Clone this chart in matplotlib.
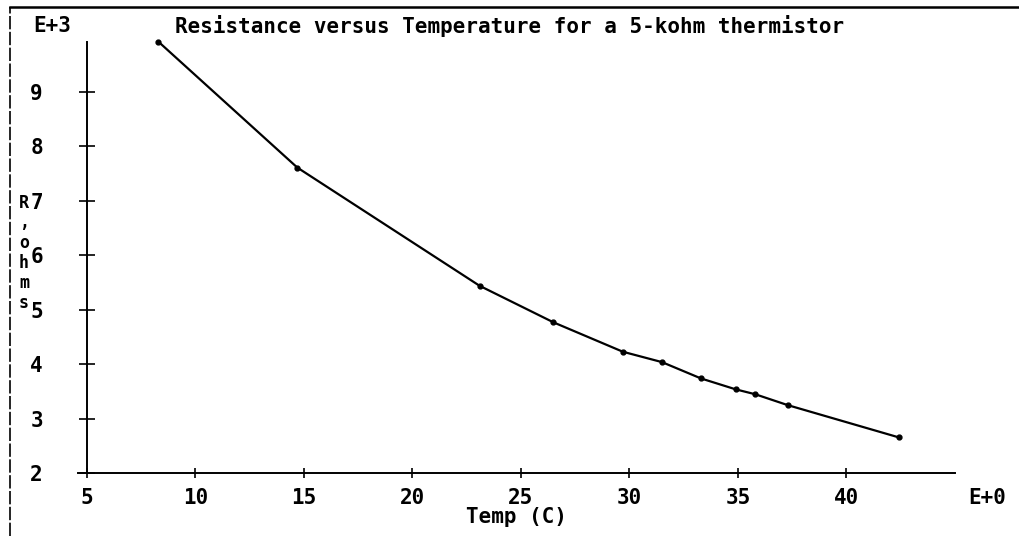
import matplotlib
matplotlib.use('Agg')
import matplotlib.pyplot as plt
from matplotlib.lines import Line2D

# Thermistor readings (temperature in C, resistance in kohm)
temp_c = [8.3, 14.7, 23.1, 26.5, 29.7, 31.5, 33.3, 34.9, 35.8, 37.3, 42.4]
res_kohm = [9.92, 7.61, 5.44, 4.77, 4.23, 4.04, 3.74, 3.54, 3.45, 3.25, 2.66]
x_ticks = [5, 10, 15, 20, 25, 30, 35, 40]
y_ticks = [2, 3, 4, 5, 6, 7, 8, 9]
title = "Resistance versus Temperature for a 5-kohm thermistor"
ylabel_chars = "R,ohms"

font = {'family': 'DejaVu Sans Mono', 'weight': 'bold', 'size': 15}
small_font = dict(font, size=12)

fig = plt.figure(figsize=(10.19, 5.36), dpi=100)
ax = fig.add_axes([0.0766, 0.1170, 0.8606, 0.8134])

ax.plot(temp_c, res_kohm, color='black', lw=1.6, marker='o', ms=3.5)

ax.set_xlim(4.6, 45)
ax.set_ylim(2, 10)
ax.spines['left'].set_position(('data', 5))
ax.spines['left'].set_bounds(2, 9.92)
ax.spines['top'].set_visible(False)
ax.spines['right'].set_visible(False)
for s in ('left', 'bottom'):
    ax.spines[s].set_linewidth(1.4)

ax.set_xticks(x_ticks)
ax.set_yticks(y_ticks)
ax.set_xticklabels([str(v) for v in x_ticks], fontdict=font)
ax.set_yticklabels([str(v) for v in y_ticks], fontdict=font)
ax.tick_params(axis='x', direction='inout', length=7, width=1.2, pad=7)
ax.tick_params(axis='y', direction='inout', length=11, width=1.2, pad=26)

# Title, exponent markers and axis labels
fig.text(175 / 1019, 1 - 26 / 536, title, ha='left', va='center', **font)
fig.text(52 / 1019, 1 - 26 / 536, "E+3", ha='center', va='center', **font)
fig.text(987 / 1019, 1 - 498 / 536, "E+0", ha='center', va='center', **font)
fig.text(517 / 1019, 1 - 517 / 536, "Temp (C)", ha='center', va='center', **font)
for i, ch in enumerate(ylabel_chars):
    fig.text(24 / 1019, 1 - (203 + 20 * i) / 536, ch, ha='center', va='center', **small_font)

# Frame lines of the original plot page
fig.add_artist(Line2D([10 / 1019, 10 / 1019], [0, 1 - 7 / 536], transform=fig.transFigure,
                      color='black', lw=1.2, linestyle=(0, (8, 1.5))))
fig.add_artist(Line2D([10 / 1019, 1], [1 - 7 / 536, 1 - 7 / 536], transform=fig.transFigure,
                      color='black', lw=1.8))

fig.savefig('out.png', dpi=100)
